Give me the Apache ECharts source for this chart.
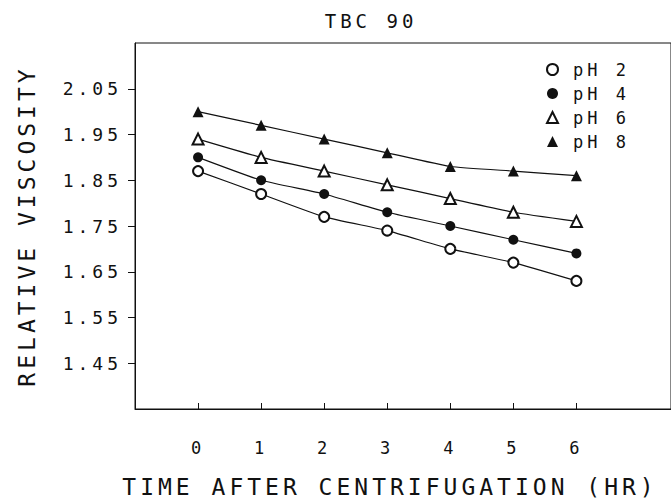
<!DOCTYPE html>
<html>
<head>
<meta charset="utf-8">
<script src="https://cdn.jsdelivr.net/npm/echarts@6/dist/echarts.min.js"></script>
<style>
  html, body { margin: 0; padding: 0; background: #fff; }
  #chart { width: 671px; height: 503px; }
  /* plotter lettering is widely spaced */
  #chart text { letter-spacing: 4px; }
</style>
</head>
<body>
<div id="chart"></div>
<script>
const hours = [0, 1, 2, 3, 4, 5, 6];
const ph2 = [1.87, 1.82, 1.77, 1.74, 1.70, 1.67, 1.63];
const ph4 = [1.90, 1.85, 1.82, 1.78, 1.75, 1.72, 1.69];
const ph6 = [1.94, 1.90, 1.87, 1.84, 1.81, 1.78, 1.76];
const ph8 = [2.00, 1.97, 1.94, 1.91, 1.88, 1.87, 1.86];
const yTicks = [1.45, 1.55, 1.65, 1.75, 1.85, 1.95, 2.05];
const xTicks = [0, 1, 2, 3, 4, 5, 6];

const font = 'DejaVu Sans Mono';
const ink = '#111';

const pairs = (ys) => hours.map((h, i) => [h, ys[i]]);

const makeSeries = (name, ys, symbol, size) => ({
	name,
	type: 'line',
	data: pairs(ys),
	symbol,
	symbolSize: size,
	smooth: 0.15,
	lineStyle: { color: ink, width: 1.2 },
	itemStyle: { color: ink, borderWidth: 1.3 },
	emphasis: { disabled: true },
});

const chart = echarts.init(document.getElementById('chart'), null, { renderer: 'svg' });

chart.setOption({
	animation: false,
	backgroundColor: '#fff',
	title: {
		text: 'TBC 90',
		left: 366,
		top: 6,
		textAlign: 'center',
		textStyle: { fontFamily: font, fontSize: 19, fontWeight: 'normal', color: ink },
	},
	legend: {
		orient: 'vertical',
		left: 541,
		top: 56,
		itemWidth: 11,
		itemHeight: 11,
		itemGap: 7,
		textStyle: { fontFamily: font, fontSize: 17, color: ink, padding: [0, 0, 0, 10] },
		data: [
			{ name: 'pH 2', icon: 'emptyCircle' },
			{ name: 'pH 4', icon: 'circle' },
			{ name: 'pH 6', icon: 'emptyTriangle' },
			{ name: 'pH 8', icon: 'triangle' },
		],
	},
	grid: {
		left: 135,
		top: 43,
		right: -22,
		bottom: 93,
		show: true,
		borderColor: ink,
		borderWidth: 1,
	},
	xAxis: {
		type: 'value',
		min: -1,
		max: 7.5,
		name: 'TIME AFTER CENTRIFUGATION (HR)',
		nameLocation: 'middle',
		nameGap: 66,
		nameTextStyle: { fontFamily: font, fontSize: 23, color: ink, padding: [0, 26, 0, 0] },
		axisLine: { onZero: false, lineStyle: { color: ink, width: 1 } },
		axisTick: { show: true, inside: true, length: 6, customValues: xTicks, lineStyle: { color: ink } },
		axisLabel: { customValues: xTicks, margin: 30, fontFamily: font, fontSize: 17, color: ink },
		splitLine: { show: false },
	},
	yAxis: {
		type: 'value',
		min: 1.35,
		max: 2.15,
		name: 'RELATIVE VISCOSITY',
		nameLocation: 'middle',
		nameGap: 97,
		nameTextStyle: { fontFamily: font, fontSize: 23, color: ink, padding: [0, 0, 0, 0] },
		axisLine: { show: true, onZero: false, lineStyle: { color: ink, width: 1 } },
		axisTick: { show: true, inside: false, length: 7, customValues: yTicks, lineStyle: { color: ink } },
		axisLabel: {
			customValues: yTicks,
			margin: 13,
			fontFamily: font,
			fontSize: 18,
			color: ink,
			formatter: (v) => v.toFixed(2),
		},
		splitLine: { show: false },
	},
	series: [
		makeSeries('pH 2', ph2, 'emptyCircle', 10),
		makeSeries('pH 4', ph4, 'circle', 10),
		makeSeries('pH 6', ph6, 'emptyTriangle', 11),
		makeSeries('pH 8', ph8, 'triangle', 11),
	],
});
</script>
</body>
</html>
